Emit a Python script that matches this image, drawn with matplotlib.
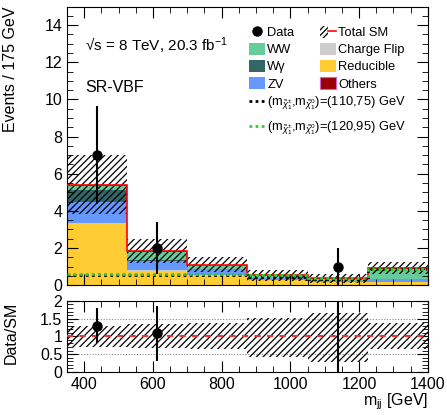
import numpy as np
import matplotlib
matplotlib.use('Agg')
import matplotlib.pyplot as plt
from matplotlib.patches import Patch
from matplotlib.lines import Line2D
from matplotlib.legend_handler import HandlerTuple
from matplotlib.ticker import MultipleLocator

plt.rcParams['font.family'] = ['Liberation Sans', 'DejaVu Sans']
plt.rcParams['mathtext.fontset'] = 'custom'
plt.rcParams['mathtext.rm'] = 'Liberation Sans'
plt.rcParams['mathtext.it'] = 'Liberation Sans:italic'
plt.rcParams['mathtext.bf'] = 'Liberation Sans:bold'
plt.rcParams['mathtext.sf'] = 'Liberation Sans'
plt.rcParams['hatch.linewidth'] = 0.9

# ---------------- data ----------------
bin_edges = [350, 525, 700, 875, 1050, 1225, 1400]
reducible = [3.33, 0.72, 0.55, 0.28, 0.15, 0.17]
charge_flip = [0.03, 0.08, 0.01, 0.01, 0.01, 0.02]
zv = [1.14, 0.50, 0.30, 0.10, 0.05, 0.13]
wgamma = [0.63, 0.05, 0.02, 0.01, 0.01, 0.01]
ww = [0.21, 0.42, 0.18, 0.13, 0.12, 0.55]
others = [0.04, 0.07, 0.02, 0.01, 0.02, 0.02]
unc_up = [0.30, 0.35, 0.38, 0.51, 0.65, 0.37]
unc_down = [0.29, 0.34, 0.35, 0.57, 0.71, 0.36]
data_counts = [7, 2, 0, 0, 1, 0]
sig_110_75 = [0.55, 0.55, 0.55, 0.42, 0.32, 0.86]
sig_120_95 = [0.58, 0.58, 0.58, 0.52, 0.36, 0.88]

edges = np.array(bin_edges, dtype=float)
centers = 0.5 * (edges[:-1] + edges[1:])
widths = np.diff(edges)

components = [
    (reducible, '#ffcc33'),
    (charge_flip, '#cccccc'),
    (zv, '#6699ff'),
    (wgamma, '#336666'),
    (ww, '#66cc99'),
    (others, '#990000'),
]

HATCH = '/////'

fig = plt.figure(figsize=(4.47, 4.15), dpi=100)
ax = fig.add_axes([0.150, 0.313, 0.807, 0.671])
rax = fig.add_axes([0.150, 0.104, 0.807, 0.171])

bottom = np.zeros(len(centers))
for vals, col in components:
    v = np.array(vals)
    ax.stairs(bottom + v, edges, baseline=bottom.copy(), fill=True,
              color=col, lw=0, zorder=1)
    bottom = bottom + v
total = bottom

up = np.array(unc_up)
dn = np.array(unc_down)

# uncertainty band
ax.bar(centers, total * (up + dn), bottom=total * (1 - dn), width=widths,
       fill=False, hatch=HATCH, edgecolor='black', lw=0, zorder=3)
# total SM outline
ax.stairs(total, edges, baseline=None, color='red', lw=1.2, zorder=4)

# signals
ax.stairs(sig_110_75, edges, baseline=None, color='black',
          ls=(0, (1, 1.2)), lw=2, zorder=5)
ax.stairs(sig_120_95, edges, baseline=None, color='#33cc33',
          ls=(0, (1, 1.2)), lw=2, zorder=5)

# data
dc = np.array(data_counts, dtype=float)
mask = dc > 0
ax.errorbar(centers[mask], dc[mask], yerr=np.sqrt(dc[mask]), fmt='o',
            color='black', ms=6.5, lw=1.5, capsize=0, zorder=6)

ax.set_xlim(350, 1400)
ax.set_ylim(0, 15)
ax.xaxis.set_major_locator(MultipleLocator(200))
ax.xaxis.set_minor_locator(MultipleLocator(50))
ax.yaxis.set_major_locator(MultipleLocator(2))
ax.yaxis.set_minor_locator(MultipleLocator(0.5))
ax.tick_params(which='both', direction='in', top=True, right=True,
               labelbottom=False, labelsize=11.5)
ax.tick_params(which='major', length=8)
ax.tick_params(which='minor', length=4)
ax.set_ylabel('Events / 175 GeV', fontsize=11.5, ha='right')
ax.yaxis.set_label_coords(-0.135, 1.0)

ax.text(0.05, 0.86, '\u221as = 8 TeV, 20.3 fb$^{-1}$', transform=ax.transAxes,
        fontsize=11, va='center', ha='left')
ax.text(0.05, 0.71, 'SR-VBF', transform=ax.transAxes,
        fontsize=11.5, va='center', ha='left')

# legend
h_data = Line2D([], [], marker='o', color='black', ls='none', ms=6.5)
h_tot = (Patch(facecolor='none', edgecolor='black', hatch='//////', lw=0),
         Line2D([], [], color='red', lw=1.2))
handles1 = [h_data,
            Patch(facecolor='#66cc99', lw=0),
            Patch(facecolor='#336666', lw=0),
            Patch(facecolor='#6699ff', lw=0),
            h_tot,
            Patch(facecolor='#cccccc', lw=0),
            Patch(facecolor='#ffcc33', lw=0),
            Patch(facecolor='#990000', edgecolor='#cc66cc', lw=0.8)]
labels1 = ['Data', 'WW', 'W\u03b3', 'ZV', 'Total SM', 'Charge Flip',
           'Reducible', 'Others']
leg1 = ax.legend(handles1, labels1, ncol=2, loc='upper left',
                 bbox_to_anchor=(0.505, 0.93), frameon=False,
                 fontsize=9.3, handlelength=1.2, handleheight=1.0,
                 handletextpad=0.2, columnspacing=2.0, labelspacing=0.3,
                 borderpad=0, borderaxespad=0,
                 handler_map={tuple: HandlerTuple(ndivide=None)})
ax.add_artist(leg1)

h_s1 = Line2D([], [], color='black', ls=(0, (1, 1.2)), lw=2)
h_s2 = Line2D([], [], color='#33cc33', ls=(0, (1, 1.2)), lw=2)
lab_s1 = r'(m$_{\tilde{\chi}_1^{\pm}}$,m$_{\tilde{\chi}_1^{0}}$)=(110,75) GeV'
lab_s2 = r'(m$_{\tilde{\chi}_1^{\pm}}$,m$_{\tilde{\chi}_1^{0}}$)=(120,95) GeV'
ax.legend([h_s1, h_s2], [lab_s1, lab_s2], loc='upper left',
          bbox_to_anchor=(0.505, 0.685), frameon=False, fontsize=9.3,
          handlelength=1.2, handletextpad=0.2, labelspacing=0.6,
          borderpad=0, borderaxespad=0)

# ---------------- ratio ----------------
rax.bar(centers, up + dn, bottom=1 - dn, width=widths, fill=False,
        hatch=HATCH, edgecolor='black', lw=0, zorder=2)
for yv in (0.5, 1.5):
    rax.axhline(yv, color='#888888', ls=(0, (1, 1.5)), lw=0.8, zorder=1)
rax.axhline(1.0, color='#ee3333', ls=(0, (3, 3)), lw=1.5, zorder=3)
ratio = dc[mask] / total[mask]
rerr = np.sqrt(dc[mask]) / total[mask]
rax.errorbar(centers[mask], ratio, yerr=rerr, fmt='o', color='black',
             ms=6.5, lw=1.5, capsize=0, zorder=5)
rax.set_xlim(350, 1400)
rax.set_ylim(0, 2)
rax.xaxis.set_major_locator(MultipleLocator(200))
rax.xaxis.set_minor_locator(MultipleLocator(50))
rax.yaxis.set_minor_locator(MultipleLocator(0.1))
rax.set_yticks([0, 0.5, 1, 1.5, 2])
rax.set_yticklabels(['0', '0.5', '1', '1.5', '2'])
rax.tick_params(which='both', direction='in', top=True, right=True,
                labelsize=11.5)
rax.tick_params(which='major', length=8)
rax.tick_params(which='minor', length=4)
rax.set_ylabel('Data/SM', fontsize=11.5)
rax.yaxis.set_label_coords(-0.135, 0.55)
rax.set_xlabel('m$_{\\rm jj}$ [GeV]', fontsize=11.5, ha='right')
rax.xaxis.set_label_coords(1.0, -0.27)

fig.savefig('out.png', dpi=100)
